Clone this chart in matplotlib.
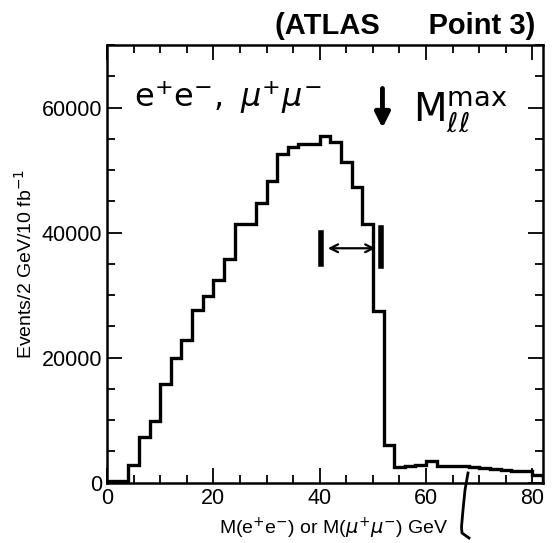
# ATLAS Point 3 dilepton invariant mass histogram
import numpy as np
import matplotlib.pyplot as plt
from matplotlib.lines import Line2D
from matplotlib.ticker import MultipleLocator

plt.rcParams['font.family'] = ['Liberation Sans', 'DejaVu Sans']

# bin edges (2 GeV bins) and events per bin
edges = np.arange(0, 84, 2)
events = [300, 300, 2900, 7300, 9800, 15800, 20000, 22800, 27700, 29800,
          32400, 35800, 41400, 41400, 44700, 48300, 52600, 53700, 54200, 54200,
          55500, 54500, 51300, 47300, 41400, 27400, 6000, 2500, 2600, 2800,
          3400, 2700, 2700, 2600, 2500, 2400, 2200, 2100, 1900, 1800, 1300]

xticks = [0, 20, 40, 60, 80]
yticks = [0, 20000, 40000, 60000]

fig = plt.figure(figsize=(5.53, 5.43), dpi=100)
ax = fig.add_axes([0.1935, 0.111, 0.7885, 0.806])

ax.stairs(events, edges, baseline=0, color='black', lw=2.4)

ax.set_xlim(0, 82)
ax.set_ylim(0, 70000)
ax.set_xticks(xticks)
ax.set_yticks(yticks)
ax.xaxis.set_minor_locator(MultipleLocator(5))
ax.yaxis.set_minor_locator(MultipleLocator(5000))
ax.tick_params(which='both', direction='in', top=True, right=True,
               labelsize=15.5, width=1.3)
ax.tick_params(which='major', length=11)
ax.tick_params(which='minor', length=6)
for s in ax.spines.values():
    s.set_linewidth(1.8)

ax.set_xlabel(r'M(e$^{+}$e$^{-}$) or M($\mu^{+}\mu^{-}$) GeV', fontsize=14)
ax.xaxis.set_label_coords(0.52, -0.075)
ax.set_ylabel(r'Events/2 GeV/10 fb$^{-1}$', fontsize=14, labelpad=4)

# hand-written annotations
fig.text(0.733, 0.952, '(ATLAS      Point 3)', fontsize=21, ha='center',
         va='center', fontweight='bold')
ax.text(5.0, 61700, r'$\mathrm{e^{+}e^{-}},\ \mu^{+}\mu^{-}$', fontsize=23,
        va='center')
ax.annotate('', xy=(51.8, 56300), xytext=(51.8, 63500),
            arrowprops=dict(arrowstyle='-|>', lw=3.5, color='black',
                            mutation_scale=22))
ax.text(57.5, 59300, r'$\mathrm{M}_{\ell\ell}^{\mathrm{max}}$', fontsize=28,
        va='center')

# measured edge marker
ax.annotate('', xy=(41.0, 37500), xytext=(51.0, 37500),
            arrowprops=dict(arrowstyle='<->', lw=1.6, color='black',
                            mutation_scale=14))
ax.plot([40.3, 40.3], [35000, 40000], color='black', lw=4)
ax.plot([51.6, 51.6], [34600, 40800], color='black', lw=4)

curve_x = np.array([468, 465, 463, 461.5, 462, 469]) / 553
curve_y = 1 - np.array([473, 490, 510, 527, 533, 538]) / 543
fig.add_artist(Line2D(curve_x, curve_y, transform=fig.transFigure,
                      color='black', lw=2))

fig.savefig('out.png', dpi=100)
